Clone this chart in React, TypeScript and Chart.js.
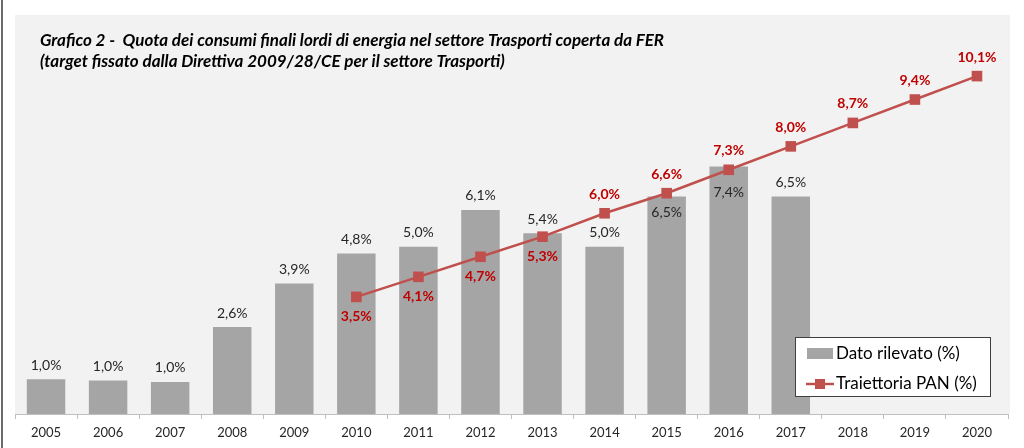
import React, { useEffect, useRef } from "react";
import { Chart, registerables } from "chart.js";

Chart.register(...registerables);

const YEARS = ["2005", "2006", "2007", "2008", "2009", "2010", "2011", "2012", "2013", "2014", "2015", "2016", "2017", "2018", "2019", "2020"];
const DATO_RILEVATO: (number | null)[] = [1.04, 1.0, 0.96, 2.6, 3.9, 4.8, 5.0, 6.1, 5.4, 5.0, 6.5, 7.4, 6.5, null, null, null];
const TRAIETTORIA_PAN: (number | null)[] = [null, null, null, null, null, 3.5, 4.1, 4.7, 5.3, 6.0, 6.6, 7.3, 8.0, 8.7, 9.4, 10.1];
const TITLE_LINES = [
  "Grafico 2 -  Quota dei consumi finali lordi di energia nel settore Trasporti coperta da FER",
  "(target fissato dalla Direttiva 2009/28/CE per il settore Trasporti)",
];
const SERIES_NAMES = ["Dato rilevato (%)", "Traiettoria PAN (%)"];

const BAR_COLOR = "#a5a5a5";
const LINE_COLOR = "#c0504d";
const LINE_LABEL_COLOR = "#c00000";
const FONT = "Lato, 'Open Sans', sans-serif";

// label placement rules (presentation only)
const PAN_LABEL_BELOW = new Set(["2010", "2011", "2012", "2013"]);
const BAR_LABEL_INSIDE = new Set(["2015", "2016"]);

const fmt = (v: number) => v.toFixed(1).replace(".", ",") + "%";

const decorPlugin = {
  id: "decor",
  beforeDraw(chart: any) {
    const { ctx, chartArea } = chart;
    ctx.save();
    ctx.fillStyle = "#ffffff";
    ctx.fillRect(0, 0, chart.width, chart.height);
    ctx.fillStyle = "#f2f2f2";
    ctx.fillRect(15, 15, 995, chartArea.bottom - 15);
    // left frame line
    ctx.fillStyle = "#6b6b6b";
    ctx.fillRect(1, 0, 2, chart.height);
    ctx.restore();
  },
  afterDraw(chart: any) {
    const { ctx } = chart;
    ctx.save();
    // title
    ctx.fillStyle = "#000000";
    ctx.font = `italic bold 17px ${FONT}`;
    ctx.textBaseline = "middle";
    ctx.textAlign = "left";
    ctx.fillText(TITLE_LINES[0], 40, 41);
    ctx.fillText(TITLE_LINES[1], 40, 62);

    // data labels
    const barMeta = chart.getDatasetMeta(0);
    const lineMeta = chart.getDatasetMeta(1);
    ctx.textAlign = "center";
    ctx.font = `14px ${FONT}`;
    ctx.fillStyle = "#262626";
    barMeta.data.forEach((el: any, i: number) => {
      const v = chart.data.datasets[0].data[i];
      if (v == null) return;
      const y = BAR_LABEL_INSIDE.has(YEARS[i]) ? (YEARS[i] === "2016" ? el.y + 26 : el.y + 16) : el.y - 14;
      ctx.fillText(fmt(v), el.x, y);
    });
    ctx.font = `bold 14px ${FONT}`;
    ctx.fillStyle = LINE_LABEL_COLOR;
    lineMeta.data.forEach((el: any, i: number) => {
      const v = chart.data.datasets[1].data[i];
      if (v == null) return;
      const y = PAN_LABEL_BELOW.has(YEARS[i]) ? el.y + 20 : el.y - 19;
      ctx.fillText(fmt(v), el.x, y);
    });

    // legend
    const ds = chart.data.datasets;
    ctx.fillStyle = "#ffffff";
    ctx.fillRect(795, 337, 196, 60);
    ctx.strokeStyle = "#404040";
    ctx.lineWidth = 1;
    ctx.strokeRect(795.5, 337.5, 195, 59);
    ctx.fillStyle = ds[0].backgroundColor;
    ctx.fillRect(807, 348, 26, 11);
    ctx.strokeStyle = ds[1].borderColor;
    ctx.lineWidth = 2.5;
    ctx.beginPath();
    ctx.moveTo(806, 384);
    ctx.lineTo(834, 384);
    ctx.stroke();
    ctx.fillStyle = ds[1].pointBackgroundColor;
    ctx.fillRect(815, 379, 10, 10);
    ctx.fillStyle = "#000000";
    ctx.font = `17px ${FONT}`;
    ctx.textAlign = "left";
    ctx.fillText(ds[0].label, 836, 354);
    ctx.fillText(ds[1].label, 836, 384);
    ctx.restore();
  },
};

export default function App() {
  const ref = useRef<HTMLCanvasElement | null>(null);
  useEffect(() => {
    if (!ref.current) return;
    const chart = new Chart(ref.current, {
      type: "bar",
      data: {
        labels: YEARS,
        datasets: [
          {
            type: "bar",
            label: SERIES_NAMES[0],
            data: DATO_RILEVATO,
            backgroundColor: BAR_COLOR,
            categoryPercentage: 1,
            barPercentage: 0.62,
            order: 2,
          } as any,
          {
            type: "line",
            label: SERIES_NAMES[1],
            data: TRAIETTORIA_PAN,
            borderColor: LINE_COLOR,
            backgroundColor: LINE_COLOR,
            pointBackgroundColor: LINE_COLOR,
            pointBorderColor: LINE_COLOR,
            borderWidth: 2.5,
            pointStyle: "rect",
            pointRadius: 7.5,
            pointBorderWidth: 0,
            spanGaps: false,
            clip: false,
            order: 1,
          } as any,
        ],
      },
      options: {
        animation: false,
        responsive: false,
        layout: { padding: { top: 46, left: 15, right: 16, bottom: 0 } },
        plugins: { legend: { display: false }, tooltip: { enabled: false }, title: { display: false } },
        scales: {
          x: {
            offset: true,
            grid: { offset: true, drawOnChartArea: false, tickLength: 5, color: "#bfbfbf" },
            border: { color: "#bfbfbf", width: 1 },
            ticks: { color: "#262626", font: { family: FONT, size: 13 }, padding: 6, maxRotation: 0 },
            afterFit: (s: any) => {
              s.height = 34;
            },
          },
          y: { display: false, min: 0, max: 11 },
        },
      },
      plugins: [decorPlugin],
    });
    return () => chart.destroy();
  }, []);
  return (
    <div style={{ position: "fixed", left: 0, top: 0, width: 1024, height: 448, background: "#fff" }}>
      <canvas ref={ref} width={1024} height={448} style={{ display: "block" }} />
    </div>
  );
}
